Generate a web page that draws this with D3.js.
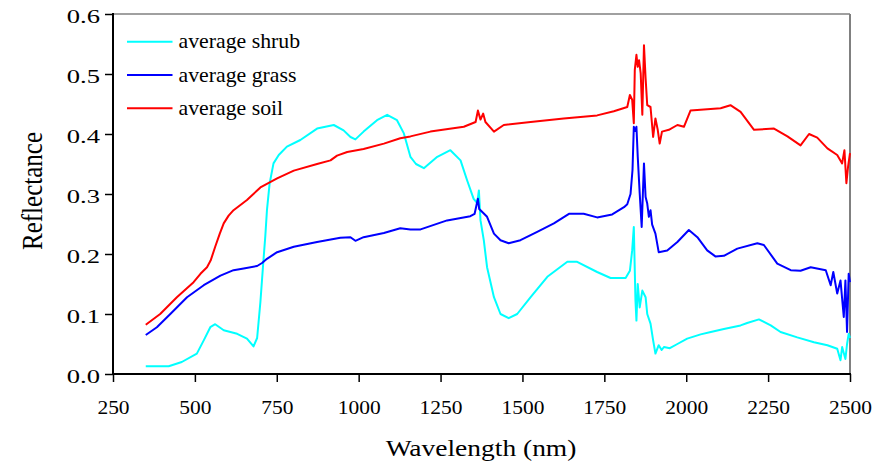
<!DOCTYPE html>
<html>
<head>
<meta charset="utf-8">
<script src="https://cdn.jsdelivr.net/npm/d3@7/dist/d3.min.js"></script>
<style>
  html, body { margin: 0; padding: 0; background: #fff; }
  svg text { font-family: "Liberation Serif", Tinos, "Times New Roman", Times, "DejaVu Serif", serif !important; }
</style>
</head>
<body>
<svg id="chart" width="881" height="463"></svg>
<script>
// ---- Data ----
const seriesNames = ["average shrub", "average grass", "average soil"];
const seriesColors = ["#00FFFF", "#0000FF", "#FF0000"];

const shrubWl = [350,420,460,506,527,547,562,588,629,659,679,690,700,708,715,720,728,740,756,781,822,873,924,954,975,990,1015,1056,1087,1117,1138,1158,1175,1199,1240,1280,1311,1331,1351,1362,1367,1372,1382,1392,1413,1433,1458,1484,1525,1576,1637,1667,1728,1769,1815,1828,1835,1840,1845,1848,1852,1858,1866,1876,1881,1891,1899,1906,1916,1925,1932,1950,1973,2003,2044,2075,2115,2166,2186,2222,2258,2288,2339,2390,2431,2461,2471,2476,2481,2486,2491,2496,2500];
const shrubR  = [0.013,0.013,0.020,0.034,0.056,0.078,0.083,0.073,0.067,0.059,0.046,0.060,0.120,0.180,0.230,0.273,0.317,0.351,0.365,0.379,0.390,0.409,0.415,0.406,0.395,0.391,0.404,0.423,0.432,0.423,0.401,0.362,0.350,0.343,0.362,0.373,0.356,0.323,0.292,0.285,0.306,0.256,0.223,0.178,0.128,0.100,0.093,0.100,0.128,0.162,0.187,0.187,0.170,0.160,0.160,0.172,0.206,0.245,0.123,0.089,0.150,0.111,0.139,0.128,0.100,0.084,0.056,0.034,0.048,0.040,0.045,0.043,0.050,0.059,0.066,0.070,0.075,0.081,0.085,0.091,0.081,0.070,0.061,0.053,0.048,0.042,0.023,0.045,0.035,0.025,0.050,0.067,0.060];

const grassWl = [350,384,425,476,527,578,618,649,690,705,720,751,802,873,944,975,990,1015,1077,1127,1158,1189,1270,1341,1354,1364,1368,1372,1392,1413,1433,1458,1494,1545,1596,1642,1687,1728,1774,1810,1820,1830,1836,1840,1844,1848,1852,1858,1864,1871,1876,1881,1886,1891,1896,1906,1916,1942,1973,2008,2034,2064,2089,2115,2156,2217,2237,2278,2319,2349,2380,2426,2441,2449,2461,2471,2481,2486,2491,2496,2500];
const grassR  = [0.065,0.078,0.100,0.128,0.148,0.164,0.173,0.176,0.180,0.185,0.192,0.203,0.212,0.220,0.227,0.228,0.222,0.228,0.235,0.243,0.241,0.241,0.256,0.263,0.267,0.292,0.275,0.273,0.262,0.234,0.223,0.218,0.223,0.237,0.251,0.267,0.267,0.261,0.266,0.278,0.283,0.300,0.340,0.412,0.405,0.412,0.362,0.301,0.245,0.351,0.295,0.284,0.262,0.273,0.249,0.234,0.203,0.206,0.220,0.240,0.228,0.206,0.196,0.197,0.209,0.218,0.215,0.184,0.173,0.172,0.178,0.173,0.148,0.170,0.134,0.156,0.095,0.156,0.070,0.167,0.153];

const soilWl = [350,394,445,496,517,537,548,562,576,588,603,618,659,700,751,802,873,914,934,965,1015,1077,1127,1158,1219,1321,1357,1364,1372,1380,1387,1413,1443,1525,1626,1728,1779,1820,1828,1835,1840,1843,1848,1852,1856,1861,1866,1871,1876,1881,1891,1899,1906,1913,1919,1926,1947,1973,1993,2013,2054,2105,2135,2166,2207,2268,2309,2349,2375,2400,2431,2461,2476,2483,2489,2494,2500];
const soilR  = [0.082,0.100,0.128,0.153,0.167,0.178,0.189,0.212,0.234,0.251,0.264,0.273,0.290,0.311,0.326,0.339,0.350,0.356,0.364,0.370,0.375,0.384,0.393,0.396,0.404,0.412,0.420,0.439,0.424,0.434,0.420,0.404,0.415,0.420,0.426,0.431,0.438,0.445,0.465,0.457,0.418,0.507,0.532,0.512,0.523,0.501,0.432,0.548,0.493,0.448,0.445,0.395,0.426,0.407,0.384,0.404,0.407,0.415,0.412,0.439,0.441,0.443,0.448,0.437,0.407,0.409,0.396,0.381,0.400,0.394,0.376,0.365,0.351,0.373,0.318,0.345,0.368];

const xTicks = [250,500,750,1000,1250,1500,1750,2000,2250,2500];
const yTicks = [0,0.1,0.2,0.3,0.4,0.5,0.6];

// ---- Layout ----
const svg = d3.select("#chart");
const pLeft = 113, pRight = 850, pTop = 14, pBottom = 374;
const x = d3.scaleLinear().domain([250, 2500]).range([pLeft, pRight]);
const y = d3.scaleLinear().domain([0, 0.6]).range([pBottom, pTop]);

const series = [
  {name: seriesNames[0], color: seriesColors[0], pts: d3.zip(shrubWl, shrubR)},
  {name: seriesNames[1], color: seriesColors[1], pts: d3.zip(grassWl, grassR)},
  {name: seriesNames[2], color: seriesColors[2], pts: d3.zip(soilWl, soilR)}
];

// plot frame (top and right in gray)
svg.append("line").attr("x1", pLeft).attr("x2", pRight).attr("y1", pTop).attr("y2", pTop)
  .attr("stroke", "#808080").attr("stroke-width", 1.5);
svg.append("line").attr("x1", pRight).attr("x2", pRight).attr("y1", pTop).attr("y2", pBottom)
  .attr("stroke", "#808080").attr("stroke-width", 2);

// series lines
const line = d3.line().x(d => x(d[0])).y(d => y(d[1]));
svg.append("g").selectAll("path").data(series).join("path")
  .attr("d", d => line(d.pts))
  .attr("fill", "none")
  .attr("stroke", d => d.color)
  .attr("stroke-width", 2)
  .attr("stroke-linejoin", "round");

// axes
const yAxis = svg.append("g").attr("transform", `translate(${pLeft},0)`)
  .call(d3.axisLeft(y).tickValues(yTicks).tickFormat(d3.format(".1f")).tickSize(8).tickSizeOuter(0));
const xAxis = svg.append("g").attr("transform", `translate(0,${pBottom})`)
  .call(d3.axisBottom(x).tickValues(xTicks).tickFormat(d3.format("d")).tickSize(8).tickSizeOuter(0));

[yAxis, xAxis].forEach(a => {
  a.attr("font-family", null).attr("font-size", null);
  a.select(".domain").attr("stroke", "#000").attr("stroke-width", 2);
  a.selectAll(".tick line").attr("stroke", "#000").attr("stroke-width", 1.5);
  a.selectAll(".tick text").attr("fill", "#000").style("font-size", "19px");
});
yAxis.select(".domain").attr("d", `M0,${pTop - 1}V${pBottom + 1}`);
xAxis.select(".domain").attr("d", `M${pLeft - 1},0H${pRight + 1}`);

yAxis.selectAll(".tick text")
  .attr("x", 0).attr("dy", "0.45em")
  .attr("transform", "translate(-13,0) scale(1.4,1)");
xAxis.selectAll(".tick text")
  .attr("y", 40).attr("dy", 0)
  .attr("transform", "scale(1.13,1)");

// axis titles
svg.append("text")
  .attr("transform", `translate(481,456) scale(1.145,1)`)
  .attr("text-anchor", "middle")
  .style("font-size", "24px").attr("fill", "#000")
  .text("Wavelength (nm)");
svg.append("text")
  .attr("transform", `translate(42,191) scale(1.15,1) rotate(-90)`)
  .attr("text-anchor", "middle")
  .style("font-size", "25px").attr("fill", "#000")
  .text("Reflectance");

// legend
const legend = svg.append("g");
const lg = legend.selectAll("g").data(series).join("g")
  .attr("transform", (d, i) => `translate(127,${41.7 + i * 33.3})`);
lg.append("line").attr("x1", 0).attr("x2", 45.5).attr("y1", 0).attr("y2", 0)
  .attr("stroke", d => d.color).attr("stroke-width", 2);
lg.append("text")
  .attr("transform", "translate(51.5,6.5) scale(1.09,1)")
  .style("font-size", "20px").attr("fill", "#000")
  .text(d => d.name);
</script>
</body>
</html>
